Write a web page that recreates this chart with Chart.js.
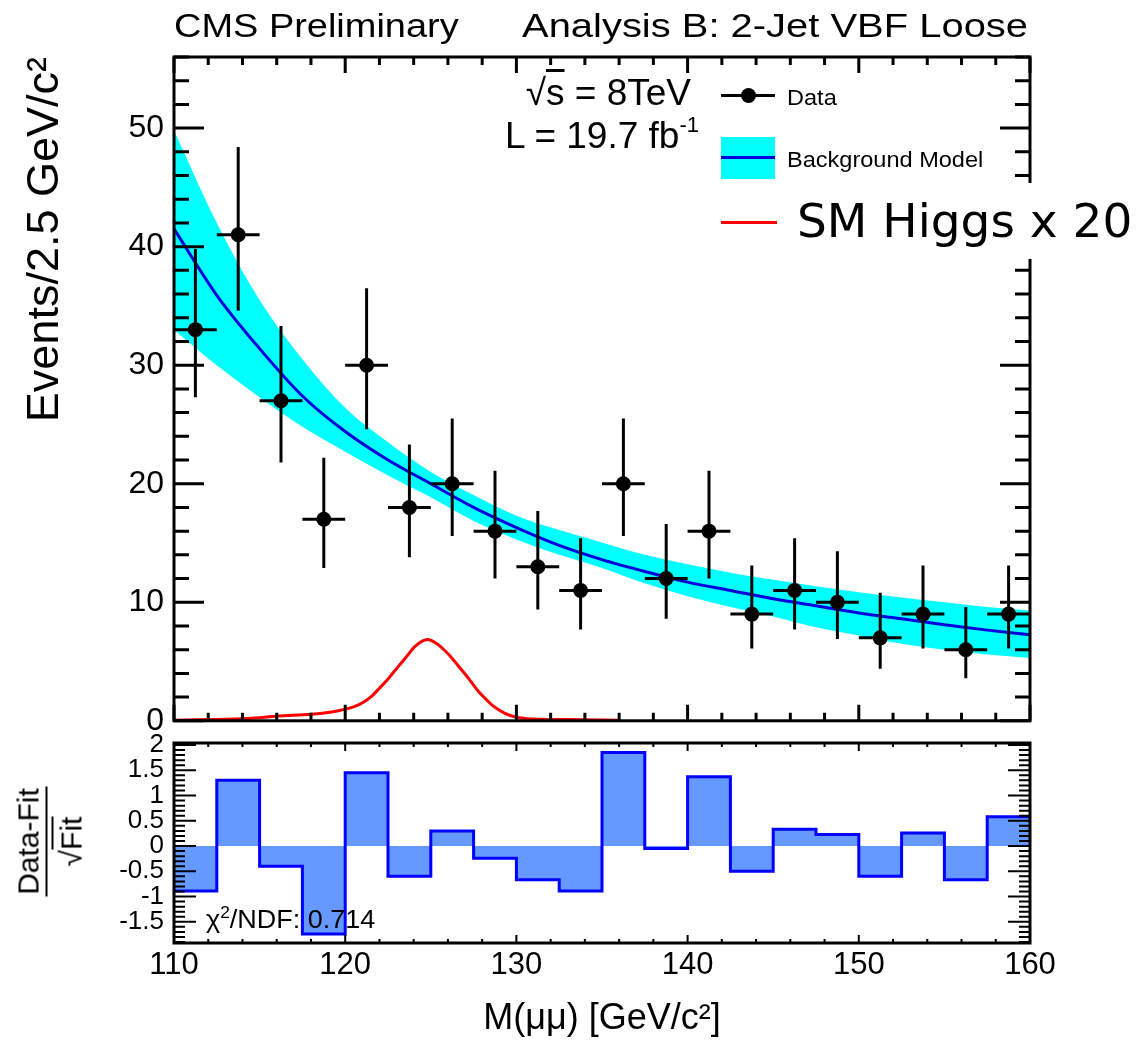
<!DOCTYPE html>
<html>
<head>
<meta charset="utf-8">
<script src="https://cdn.jsdelivr.net/npm/chart.js@4.4.1/dist/chart.umd.min.js"></script>
<style>
  body { margin: 0; background: #fff; }
  #page { position: relative; width: 1143px; height: 1041px; overflow: hidden; background: #fff; font-family: 'Liberation Sans', Arial, sans-serif; color: #000; }
  canvas { position: absolute; left: 0; }
  .txt { position: absolute; white-space: nowrap; line-height: 1; }
</style>
</head>
<body>
<div id="page">
  <canvas id="main" width="1143" height="750" style="top:0"></canvas>
  <canvas id="ratio" width="1143" height="326" style="top:715px"></canvas>

  <!-- header texts -->
  <div class="txt" style="left:174px; top:9px; font-size:33px; transform:scaleX(1.15); transform-origin:left;">CMS Preliminary</div>
  <div class="txt" style="left:522px; top:9px; font-size:33px; transform:scaleX(1.21); transform-origin:left;">Analysis B: 2-Jet VBF Loose</div>
  <div class="txt" style="right:452px; top:74px; font-size:37px;">√<span style="text-decoration:overline">s</span> = 8TeV</div>
  <div class="txt" style="right:444px; top:117px; font-size:37px;">L = 19.7 fb<span style="font-size:22px; position:relative; top:-16px;">-1</span></div>

  <!-- legend -->
  <div style="position:absolute; left:721px; top:94px; width:54px; height:3px; background:#000"></div>
  <div style="position:absolute; left:741px; top:88px; width:15px; height:15px; border-radius:50%; background:#000"></div>
  <div class="txt" style="left:787px; top:87px; font-size:22px; transform:scaleX(1.07); transform-origin:left;">Data</div>
  <div style="position:absolute; left:721px; top:137px; width:54px; height:42px; background:#00ffff"></div>
  <div style="position:absolute; left:721px; top:156px; width:54px; height:3px; background:#0000dd"></div>
  <div class="txt" style="left:787px; top:149px; font-size:22px; transform:scaleX(1.07); transform-origin:left;">Background Model</div>
  <div style="position:absolute; left:790px; top:183px; width:353px; height:76px; background:#fff"></div>
  <div style="position:absolute; left:721px; top:221px; width:56px; height:3px; background:#ff0000"></div>
  <div class="txt" style="left:797px; top:183px; height:76px; line-height:76px; font-size:47px; font-family:'DejaVu Sans', sans-serif;">SM Higgs x 20</div>

  <!-- ratio panel texts -->
  <div class="txt" style="left:206px; top:907px; font-size:25px; transform:scaleX(1.08); transform-origin:left;">χ<span style="font-size:16px; position:relative; top:-10px;">2</span>/NDF: 0.714</div>
  <div style="position:absolute; left:-10px; top:805px; width:120px; height:73px; transform:rotate(-90deg); display:flex; flex-direction:column; align-items:center; font-size:30px; line-height:1;">
    <div style="border-bottom:2px solid #000; padding:0 2px 2px 2px; line-height:30px;">Data-Fit</div>
    <div style="padding-top:4px; line-height:30px;">√<span style="display:inline-block; border-top:2px solid #000; padding-top:3px; line-height:30px;">Fit</span></div>
  </div>
</div>

<script>
// bin centres of the 2.5 GeV bins
const binCenters = [111.25, 113.75, 116.25, 118.75, 121.25, 123.75, 126.25, 128.75, 131.25, 133.75,
                    136.25, 138.75, 141.25, 143.75, 146.25, 148.75, 151.25, 153.75, 156.25, 158.75]
const halfBin = 1.25
// observed events per bin
const dataCounts = [33, 41, 27, 17, 30, 18, 20, 16, 13, 11, 20, 12, 16, 9, 11, 10, 7, 9, 6, 9]
// lower / upper end of the error bars
const errBarLow  = [27.3, 34.6, 21.8, 12.9, 24.6, 13.8, 15.6, 12.0, 9.4, 7.7, 15.6, 8.6, 12.0, 6.1, 7.7, 6.9, 4.4, 6.1, 3.6, 6.1]
const errBarHigh = [39.8, 48.4, 33.3, 22.2, 36.5, 23.3, 25.5, 21.1, 17.7, 15.4, 25.5, 16.6, 21.1, 13.1, 15.4, 14.3, 10.8, 13.1, 9.6, 13.1]

// background model and its uncertainty band
const modelMass  = [110, 112.5, 115, 117.5, 120, 122.5, 125, 127.5, 130, 132.5, 135, 137.5, 140, 142.5, 145, 147.5, 150, 152.5, 155, 157.5, 160]
const modelFit   = [41.5, 35.9, 31.4, 27.4, 24.4, 22.0, 20.0, 18.0, 16.3, 14.8, 13.6, 12.6, 11.7, 11.0, 10.3, 9.7, 9.1, 8.6, 8.1, 7.65, 7.25]
const modelUpper = [49.8, 42.0, 35.5, 30.5, 26.4, 23.5, 21.0, 19.05, 17.3, 16.1, 15.05, 14.0, 13.2, 12.5, 11.9, 11.35, 10.85, 10.4, 10.0, 9.6, 9.3]
const modelLower = [33.0, 30.0, 27.3, 24.8, 22.7, 20.7, 18.85, 16.85, 15.3, 14.0, 12.9, 11.6, 10.5, 9.6, 8.8, 7.9, 7.2, 6.5, 6.0, 5.6, 5.3]

// SM Higgs x 20 signal shape
const higgsMass  = [110, 112, 114.3, 116.1, 118, 119, 119.6, 120.2, 120.7, 121.2, 121.6, 122, 122.4, 122.8, 123.2, 123.6, 124.1,
                    124.8, 125.4, 125.8, 126.2, 126.6, 127, 127.4, 127.8, 128.2, 128.6, 129.3, 130, 131, 133, 136]
const higgsYield = [0.05, 0.1, 0.2, 0.4, 0.55, 0.7, 0.85, 1.05, 1.3, 1.7, 2.15, 2.75, 3.35, 4.05, 4.75, 5.45, 6.3,
                    6.85, 6.45, 5.95, 5.35, 4.65, 3.95, 3.2, 2.45, 1.85, 1.3, 0.65, 0.3, 0.15, 0.1, 0.05]

// (Data-Fit)/sqrt(Fit) per bin
const pullValues = [-0.89, 1.30, -0.40, -1.74, 1.45, -0.60, 0.30, -0.24, -0.67, -0.89,
                    1.85, -0.05, 1.37, -0.50, 0.33, 0.23, -0.60, 0.26, -0.67, 0.58]

// tick labels
const massTicks  = [110, 120, 130, 140, 150, 160]
const eventTicks = [0, 10, 20, 30, 40, 50]
const pullTicks  = [-1.5, -1, -0.5, 0, 0.5, 1, 1.5, 2]

const font = "'Liberation Sans', Arial, sans-serif"

// ROOT style frame: inward ticks on all four sides plus a black box
const rootFrame = {
    id: 'rootFrame',
    afterDraw(chart, args, o) {
        const {ctx, chartArea: a} = chart
        const xs = chart.scales.x, ys = chart.scales.y
        ctx.save()
        ctx.strokeStyle = '#000'
        ctx.lineWidth = o.tickWidth
        ctx.beginPath()
        let n = Math.round((xs.max - xs.min) / o.xMinor)
        for (let i = 0; i <= n; i++) {
            const v = xs.min + i * o.xMinor
            const px = xs.getPixelForValue(v)
            const major = Math.abs(v / o.xMajor - Math.round(v / o.xMajor)) < 1e-6
            const len = major ? o.xMajorLen : o.xMinorLen
            ctx.moveTo(px, a.bottom); ctx.lineTo(px, a.bottom - len)
            ctx.moveTo(px, a.top); ctx.lineTo(px, a.top + len)
        }
        const first = Math.ceil(ys.min / o.yMinor - 1e-6)
        const last = Math.floor(ys.max / o.yMinor + 1e-6)
        for (let k = first; k <= last; k++) {
            const v = k * o.yMinor
            const py = ys.getPixelForValue(v)
            const major = Math.abs(v / o.yMajor - Math.round(v / o.yMajor)) < 1e-6
            const len = major ? o.yMajorLen : o.yMinorLen
            ctx.moveTo(a.left, py); ctx.lineTo(a.left + len, py)
            ctx.moveTo(a.right, py); ctx.lineTo(a.right - len, py)
        }
        ctx.stroke()
        ctx.lineWidth = o.frameWidth
        ctx.strokeRect(a.left, a.top, a.right - a.left, a.bottom - a.top)
        ctx.restore()
    }
}

// data points
let points = binCenters.map((c, i) => ({x: c, y: dataCounts[i]}))
// error bars as broken line pieces
let errorBars = []
binCenters.forEach((c, i) => {
    errorBars.push({x: c, y: errBarLow[i]}, {x: c, y: errBarHigh[i]}, {x: c, y: null})
    errorBars.push({x: c - halfBin, y: dataCounts[i]}, {x: c + halfBin, y: dataCounts[i]}, {x: c + halfBin, y: null})
})
let pairs = (xs, ys) => xs.map((x, i) => ({x: x, y: ys[i]}))

new Chart(document.getElementById('main'), {
    type: 'line',
    data: {
        datasets: [
            {label: 'Data', data: points, showLine: false, pointRadius: 7.5, pointBackgroundColor: '#000', pointBorderWidth: 0, order: 0},
            {label: 'errors', data: errorBars, borderColor: '#000', borderWidth: 3, pointRadius: 0, spanGaps: false, order: 1},
            {label: 'SM Higgs x 20', data: pairs(higgsMass, higgsYield), borderColor: '#ff0000', borderWidth: 3, pointRadius: 0, cubicInterpolationMode: 'monotone', order: 2},
            {label: 'Background Model', data: pairs(modelMass, modelFit), borderColor: '#0000dd', borderWidth: 3, pointRadius: 0, cubicInterpolationMode: 'monotone', order: 3},
            {label: 'band up', data: pairs(modelMass, modelUpper), borderWidth: 0, borderColor: 'rgba(0,0,0,0)', pointRadius: 0, fill: '+1', backgroundColor: '#00ffff', cubicInterpolationMode: 'monotone', order: 4},
            {label: 'band down', data: pairs(modelMass, modelLower), borderWidth: 0, borderColor: 'rgba(0,0,0,0)', pointRadius: 0, fill: false, cubicInterpolationMode: 'monotone', order: 5}
        ]
    },
    options: {
        responsive: false,
        animation: false,
        events: [],
        layout: {padding: {left: 0, right: 113, top: 57, bottom: 23}},
        plugins: {
            legend: {display: false},
            tooltip: {enabled: false},
            rootFrame: {tickWidth: 3, frameWidth: 3, xMajor: 10, xMinor: 2, xMajorLen: 16, xMinorLen: 8,
                        yMajor: 10, yMinor: 2, yMajorLen: 30, yMinorLen: 15}
        },
        scales: {
            x: {type: 'linear', min: 110, max: 160, display: false},
            y: {
                type: 'linear', min: 0, max: 56,
                afterBuildTicks: s => { s.ticks = eventTicks.map(v => ({value: v})) },
                afterFit: s => { s.width = 174 },
                ticks: {padding: 10, color: '#000', autoSkip: false, font: {family: font, size: 32}},
                grid: {display: false, drawTicks: false},
                border: {display: false},
                title: {display: true, text: 'Events/2.5 GeV/c²', align: 'end', color: '#000',
                        font: {family: font, size: 45}, padding: {top: 19, bottom: 0}}
            }
        }
    },
    plugins: [rootFrame]
})

// step outline for the pull histogram: left bin edges plus the last right edge
let pullSteps = binCenters.map((c, i) => ({x: c - halfBin, y: pullValues[i]}))
pullSteps.push({x: binCenters[binCenters.length - 1] + halfBin, y: pullValues[pullValues.length - 1]})

new Chart(document.getElementById('ratio'), {
    type: 'line',
    data: {
        datasets: [{
            label: 'pull', data: pullSteps, stepped: true, fill: 'origin',
            backgroundColor: 'rgb(102,153,255)', borderColor: '#0000ff', borderWidth: 3, pointRadius: 0
        }]
    },
    options: {
        responsive: false,
        animation: false,
        events: [],
        layout: {padding: {left: 0, right: 113, top: 28, bottom: 0}},
        plugins: {
            legend: {display: false},
            tooltip: {enabled: false},
            rootFrame: {tickWidth: 2, frameWidth: 3, xMajor: 10, xMinor: 2, xMajorLen: 8, xMinorLen: 4,
                        yMajor: 0.5, yMinor: 0.1, yMajorLen: 22, yMinorLen: 11}
        },
        scales: {
            x: {
                type: 'linear', min: 110, max: 160,
                afterBuildTicks: s => { s.ticks = massTicks.map(v => ({value: v})) },
                afterFit: s => { s.height = 98 },
                ticks: {padding: 4, color: '#000', autoSkip: false, maxRotation: 0, font: {family: font, size: 31}},
                grid: {display: false, drawTicks: false},
                border: {display: false},
                title: {display: true, text: 'M(μμ) [GeV/c²]', color: '#000', font: {family: font, size: 36}, padding: 0}
            },
            y: {
                type: 'linear', min: -1.92, max: 2.04,
                afterBuildTicks: s => { s.ticks = pullTicks.map(v => ({value: v})) },
                afterFit: s => { s.width = 174 },
                ticks: {padding: 10, color: '#000', autoSkip: false, font: {family: font, size: 26}, callback: v => String(v)},
                grid: {display: false, drawTicks: false},
                border: {display: false}
            }
        }
    },
    plugins: [rootFrame]
})
</script>
</body>
</html>
